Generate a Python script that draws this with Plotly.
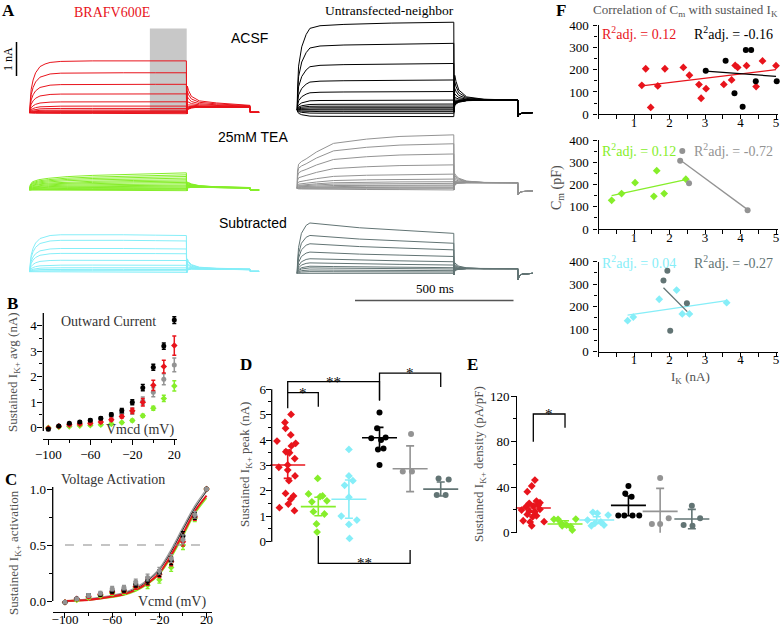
import plotly.graph_objects as go

W, H = 781, 626
def px(x): return x / W
def py(y): return 1 - y / H

RED = '#e8141c'; GREEN = '#86ee2a'; CYAN = '#86eef8'; BLACK = '#000000'
GRAY = '#939393'; SLATE = '#627474'
SERIF = 'Liberation Serif'; SANS = 'Liberation Sans'
TITLE_C = '#505050'

# ---------------- Panel A: current traces (nA vs ms) ----------------
step_ms = 500
window_ms = [383, 500]
window_top_nA = 2.55

fast_on_t = [0, 2, 6, 12, 20, 34, 50, 66, 100, 200, 300, 400, 499]
braf_tail_t = [0, 2, 6, 15, 40, 95, 201, 202, 230]
untr_tail_t = [0, 2, 6, 15, 40, 95, 202, 203, 206, 215, 250]

red_levels = [1.57, 1.21, 0.86, 0.57, 0.33, 0.2, 0.13, 0.08, 0.05, 0.03, 0.015, 0.0, -0.02]
red_on = [0, 0.2, 0.45, 0.63, 0.77, 0.89, 0.94, 0.97, 0.99, 1.0, 1.0, 1.0, 1.0]
red_tail_floor = [-0.03, 0.1, 0.12, 0.15, 0.17, 0.17, 0.16, 0.01, 0.01]
red_tail_frac = [0, 0.45, 0.35, 0.22, 0.12, 0.08, 0.04, 0.005, 0.005]

green_levels = [0.52, 0.46, 0.41, 0.36, 0.31, 0.27, 0.23, 0.19, 0.15, 0.12, 0.09, 0.06, 0.04, 0.02, 0.0]
green_on_t = [0, 3, 10, 30, 60, 120, 200, 330, 499]
green_on = [0, 0.3, 0.48, 0.6, 0.68, 0.78, 0.85, 0.93, 1.0]
green_tail_floor = [-0.02, 0.06, 0.07, 0.08, 0.08, 0.07, 0.06, 0.0, 0.0]
green_tail_frac = [0, 0.35, 0.3, 0.2, 0.1, 0.05, 0.03, 0, 0]

cyan_levels = [1.13, 0.96, 0.71, 0.56, 0.35, 0.2, 0.12, 0.07, 0.03, 0.0]
cyan_on = [0, 0.2, 0.45, 0.63, 0.77, 0.89, 0.94, 0.97, 0.99, 1.0, 0.99, 0.98, 0.97]
cyan_tail_floor = [-0.02, 0.05, 0.06, 0.08, 0.08, 0.07, 0.06, 0.01, 0.01]
cyan_tail_frac = [0, 0.3, 0.22, 0.12, 0.05, 0.03, 0.02, 0, 0]

black_levels = [2.66, 2.02, 1.41, 0.91, 0.56, 0.3, 0.18, 0.12, 0.07, 0.03, 0.0, -0.05, -0.1, -0.2]
black_on_t = [0, 2, 6, 16, 30, 42, 74, 150, 300, 499]
black_on = [0, 0.25, 0.5, 0.72, 0.86, 0.93, 0.96, 0.975, 0.99, 1.0]
black_tail_floor = [-0.05, 0.2, 0.23, 0.26, 0.29, 0.3, 0.3, -0.2, -0.14, -0.1, -0.08]
black_tail_frac = [0, 0.32, 0.24, 0.13, 0.04, 0.01, 0, 0, 0, 0, 0]

gray_levels = [1.62, 1.35, 1.04, 0.71, 0.43, 0.28, 0.2, 0.15, 0.1, 0.07, 0.03, 0.0, -0.04]
gray_on_t = [0, 2, 6, 15, 30, 63, 117, 222, 328, 499]
gray_on = [0, 0.3, 0.45, 0.5, 0.55, 0.68, 0.84, 0.92, 0.97, 1.0]
gray_tail_floor = [-0.05, 0.12, 0.14, 0.16, 0.17, 0.17, 0.17, -0.2, -0.14, -0.1, -0.08]
gray_tail_frac = [0, 0.2, 0.15, 0.09, 0.03, 0.005, 0, 0, 0, 0, 0]

slate_levels = [1.21, 0.91, 0.71, 0.51, 0.35, 0.25, 0.17, 0.13, 0.08, 0.04, 0.0]
slate_on_t = [0, 2, 6, 15, 30, 42, 116, 200, 328, 499]
slate_on = [0, 0.3, 0.65, 1.0, 1.2, 1.26, 1.2, 1.14, 1.08, 1.0]
slate_tail_floor = [-0.05, 0.08, 0.1, 0.12, 0.14, 0.14, 0.14, -0.2, -0.1, -0.03, 0.0]
slate_tail_frac = [0, 0.2, 0.15, 0.08, 0.02, 0.0, 0, 0, 0, 0, 0]

# ---------------- Panel B / C ----------------
volts = [-100, -90, -80, -70, -60, -50, -40, -30, -20, -10, 0, 10, 20]
B_black = [-0.05, 0.07, 0.17, 0.22, 0.29, 0.37, 0.52, 0.67, 1.0, 1.57, 2.37, 3.2, 4.22]
B_black_err = [0.03, 0.03, 0.03, 0.04, 0.05, 0.05, 0.06, 0.08, 0.1, 0.12, 0.12, 0.12, 0.13]
B_red = [-0.02, 0.06, 0.12, 0.15, 0.17, 0.22, 0.31, 0.44, 0.66, 1.0, 1.66, 2.4, 3.22]
B_red_err = [0.03, 0.03, 0.03, 0.03, 0.04, 0.04, 0.05, 0.06, 0.1, 0.15, 0.2, 0.25, 0.38]
B_gray = [-0.07, 0.06, 0.12, 0.2, 0.27, 0.35, 0.47, 0.57, 0.65, 1.05, 1.39, 1.9, 2.46]
B_gray_err = [0.05, 0.04, 0.04, 0.05, 0.06, 0.07, 0.08, 0.1, 0.12, 0.15, 0.18, 0.22, 0.27]
B_green = [0.0, 0.03, 0.05, 0.08, 0.1, 0.12, 0.15, 0.2, 0.28, 0.47, 0.76, 1.15, 1.64]
B_green_err = [0.02, 0.02, 0.02, 0.02, 0.03, 0.03, 0.03, 0.04, 0.05, 0.06, 0.08, 0.12, 0.2]

C_black = [-0.01, 0.02, 0.05, 0.06, 0.09, 0.1, 0.15, 0.18, 0.25, 0.36, 0.58, 0.76, 1.0]
C_red = [-0.01, 0.02, 0.04, 0.06, 0.08, 0.09, 0.13, 0.17, 0.24, 0.35, 0.53, 0.75, 1.0]
C_gray = [-0.01, 0.02, 0.05, 0.07, 0.11, 0.12, 0.17, 0.21, 0.27, 0.38, 0.55, 0.77, 1.0]
C_green = [-0.01, 0.01, 0.03, 0.05, 0.07, 0.08, 0.12, 0.14, 0.19, 0.3, 0.5, 0.74, 1.0]
C_err = [0.01, 0.01, 0.015, 0.015, 0.02, 0.02, 0.025, 0.03, 0.03, 0.035, 0.04, 0.03, 0.0]

fit_v = [-100, -80, -60, -50, -40, -30, -20, -10, 0, 10, 20]
fit_red = [0.0, 0.01, 0.04, 0.06, 0.1, 0.16, 0.25, 0.41, 0.6, 0.8, 0.94]
fit_green = [0.0, 0.01, 0.035, 0.055, 0.09, 0.15, 0.24, 0.39, 0.58, 0.78, 0.92]
fit_black = [0.0, 0.015, 0.045, 0.07, 0.11, 0.18, 0.28, 0.44, 0.64, 0.83, 0.98]
fit_gray = [0.0, 0.02, 0.05, 0.075, 0.12, 0.19, 0.29, 0.46, 0.66, 0.85, 1.0]

# ---------------- Panel D / E (category index + jitter) ----------------
groups = ['BRAF ACSF', 'BRAF TEA', 'BRAF sub', 'Untr ACSF', 'Untr TEA', 'Untr sub']
D_vals = [
    [5.01, 4.69, 4.46, 4.2, 3.96, 3.87, 3.77, 3.54, 3.5, 3.27, 2.93, 3.02, 2.82, 2.59, 2.4, 1.9, 1.8, 1.67, 1.48, 1.34, 1.22],
    [2.49, 1.88, 1.8, 1.77, 1.61, 1.57, 1.18, 1.09, 0.7, 0.38],
    [3.63, 2.59, 2.4, 2.22, 1.75, 1.01, 0.85, 0.68, 0.13],
    [5.08, 4.46, 4.1, 4.07, 4.0, 3.63, 3.67, 3.02],
    [4.24, 2.76, 2.76],
    [2.49, 2.45, 1.84, 1.84],
]
D_jit = [
    [0.11, -0.09, -0.07, 0.1, -0.35, 0.26, 0.12, -0.06, 0.06, 0.23, -0.29, 0, 0, 0.24, 0.04, -0.07, 0.19, 0.1, 0.02, -0.27, 0.22],
    [-0.02, -0.32, 0.14, 0.06, 0.28, -0.21, -0.16, 0.2, -0.06, -0.04],
    [0, 0, 0.13, -0.14, 0, -0.25, 0.26, 0, 0.02],
    [0, -0.08, 0.2, -0.27, 0.05, -0.05, 0.13, 0],
    [0.03, -0.24, 0.06],
    [-0.07, 0.26, -0.13, 0.16],
]
D_mean = [3.02, 1.38, 1.67, 4.09, 2.87, 2.07]
D_hi = [3.61, 1.75, 2.43, 4.5, 3.77, 2.35]
D_lo = [2.49, 1.02, 0.92, 3.65, 1.97, 1.8]

E_vals = [
    [46.2, 41, 36, 27.8, 26.3, 25.8, 24.3, 23.4, 22.8, 20.5, 19.9, 19, 18.4, 16, 14.9, 14, 10.5, 9.7, 9.4, 6.1],
    [11.7, 11.7, 12, 8.2, 6.7, 6.1, 5.3, 2.3],
    [17.9, 17, 15.5, 11.1, 9.4, 8.2, 6.7, 6.1],
    [41, 34.5, 31.6, 15.2, 15.2, 15.2, 15.2],
    [48, 12.6, 7.6, 7.6],
    [23.7, 12.6, 6.7, 6.1],
]
E_jit = [
    [0.05, -0.05, -0.19, 0.1, 0.21, -0.13, 0.16, 0, -0.23, 0.21, -0.37, -0.13, 0.05, -0.19, 0.1, -0.02, -0.32, 0.34, -0.1, -0.05],
    [-0.35, -0.22, 0.34, -0.12, 0.05, -0.09, 0.18, 0.23],
    [-0.12, 0.02, 0.36, -0.29, 0.13, -0.06, 0.23, -0.17],
    [0, -0.1, 0.1, -0.32, -0.13, 0.13, 0.34],
    [0, 0.27, -0.26, 0],
    [0, 0.26, -0.26, 0.02],
]
E_mean = [21.7, 7.6, 11.1, 24, 18.7, 12]
E_hi = [25.2, 10.5, 14, 32.2, 38.9, 20.5]
E_lo = [17.9, 5.3, 8.2, 14.9, -1.2, 3.5]

grp_colors = [RED, GREEN, CYAN, BLACK, GRAY, SLATE]
grp_symbols = ['diamond', 'diamond', 'diamond', 'circle', 'circle', 'circle']

# ---------------- Panel F ----------------
F1_red_x = [1.22, 1.33, 1.47, 1.67, 1.87, 2.39, 2.56, 2.83, 2.89, 3.03, 3.53, 3.75, 3.85, 3.92, 4.17, 4.44, 4.62, 5.0]
F1_red_y = [130, 204, 31, 127, 204, 210, 175, 133, 72, 115, 134, 154, 219, 210, 218, 124, 239, 218]
F1_red_fit_x = [1.22, 5.0]; F1_red_fit_y = [127, 200]
F1_blk_x = [3.02, 3.58, 3.83, 4.06, 4.15, 4.3, 4.43, 5.02]
F1_blk_y = [195, 240, 94, 34, 288, 288, 148, 148]
F1_blk_fit_x = [3.02, 5.0]; F1_blk_fit_y = [193, 170]
F2_grn_x = [0.37, 0.65, 1.03, 1.56, 1.64, 1.85, 2.46]
F2_grn_y = [129, 159, 208, 147, 262, 159, 224]
F2_grn_fit_x = [0.37, 2.46]; F2_grn_fit_y = [150, 222]
F2_gry_x = [2.36, 2.3, 2.55, 4.2]
F2_gry_y = [351, 307, 206, 84]
F2_gry_fit_x = [2.3, 4.2]; F2_gry_fit_y = [310, 87]
F3_cyn_x = [0.82, 0.98, 1.71, 2.2, 2.36, 2.56, 3.61]
F3_cyn_y = [138, 154, 233, 274, 168, 168, 218]
F3_cyn_fit_x = [0.82, 3.61]; F3_cyn_fit_y = [163, 227]
F3_slt_x = [1.94, 1.83, 2.49, 2.02]
F3_slt_y = [360, 316, 215, 93]
F3_slt_fit_x = [1.83, 2.5]; F3_slt_fit_y = [284, 178]
R2_labels = [('0.12', '-0.16'), ('0.12', '-0.72'), ('0.04', '-0.27')]

# =====================================================================
fig = go.Figure()
layout = dict(width=W, height=H, margin=dict(l=0, r=0, t=0, b=0, pad=0), autosize=False,
              paper_bgcolor='white', plot_bgcolor='rgba(0,0,0,0)', showlegend=False,
              font=dict(family=SERIF, size=13, color='black'))
shapes = []
anns = []

def axes(n, xbox, ybox, xr, yr, xkw=None, ykw=None):
    s = '' if n == 1 else str(n)
    base = dict(showgrid=False, zeroline=False, fixedrange=True, automargin=False)
    xa = dict(base, domain=[px(xbox[0]), px(xbox[1])], range=xr, anchor='y' + s)
    ya = dict(base, domain=[py(ybox[1]), py(ybox[0])], range=yr, anchor='x' + s)
    xa.update(xkw or {}); ya.update(ykw or {})
    layout['xaxis' + s] = xa; layout['yaxis' + s] = ya
    return 'x' + s, 'y' + s

HID = dict(visible=False)
def sty(showline=True, **kw):
    d = dict(visible=True, showline=showline, linecolor='black', linewidth=1.3,
             ticks='outside', ticklen=5, tickwidth=1.3, tickcolor='black',
             tickfont=dict(family=SERIF, size=13, color='black'))
    d.update(kw)
    return d

def ann(text, x, y, size=13, color='black', family=SERIF, xanchor='center',
        yanchor='middle', angle=0, xref='paper', yref='paper'):
    if xref == 'paper':
        x = px(x)
    if yref == 'paper':
        y = py(y)
    anns.append(dict(text=text, x=x, y=y, xref=xref, yref=yref, showarrow=False,
                     xanchor=xanchor, yanchor=yanchor, textangle=angle,
                     font=dict(family=family, size=size, color=color)))

# ---- Panel A axes (hidden), 1 nA = 33 px, 500 ms = 157.4 px
tscale = 157.4 / 500.0
def a_axes(n, x0, base_y, y0, y1):
    return axes(n, [x0, x0 + 760 * tscale], [y0, y1], [0, 760],
                [-(y1 - base_y) / 33.0, (base_y - y0) / 33.0], HID, HID)

ax_red = a_axes(1, 29.3, 112.7, 20, 120)
ax_blk = a_axes(2, 296.7, 110.0, 15, 122)
ax_grn = a_axes(3, 29.3, 190.0, 160, 197)
ax_gry = a_axes(4, 296.7, 188.3, 125, 200)
ax_cyn = a_axes(5, 29.3, 271.7, 225, 280)
ax_slt = a_axes(6, 296.7, 273.3, 215, 285)

shapes.append(dict(type='rect', xref=ax_red[0], yref=ax_red[1], x0=window_ms[0], x1=window_ms[1],
                   y0=0, y1=window_top_nA, fillcolor='#c8c8c8', line=dict(width=0), layer='below'))

def traces(axp, levels, on_t, on_s, tail_t, floor, frac, color):
    for lv in levels:
        t = list(on_t) + [step_ms + tt for tt in tail_t]
        y = [lv * s for s in on_s] + [f + lv * k for f, k in zip(floor, frac)]
        fig.add_trace(go.Scatter(x=t, y=y, mode='lines', xaxis=axp[0], yaxis=axp[1],
                                 line=dict(color=color, width=1), hoverinfo='skip'))

traces(ax_red, red_levels, fast_on_t, red_on, braf_tail_t, red_tail_floor, red_tail_frac, RED)
traces(ax_grn, green_levels, green_on_t, green_on, braf_tail_t, green_tail_floor, green_tail_frac, GREEN)
traces(ax_cyn, cyan_levels, fast_on_t, cyan_on, braf_tail_t, cyan_tail_floor, cyan_tail_frac, CYAN)
traces(ax_blk, black_levels, black_on_t, black_on, untr_tail_t, black_tail_floor, black_tail_frac, BLACK)
traces(ax_gry, gray_levels, gray_on_t, gray_on, untr_tail_t, gray_tail_floor, gray_tail_frac, GRAY)
traces(ax_slt, slate_levels, slate_on_t, slate_on, untr_tail_t, slate_tail_floor, slate_tail_frac, SLATE)

# scale bars
shapes.append(dict(type='line', xref='paper', yref='paper', x0=px(16.5), x1=px(16.5), y0=py(42), y1=py(76),
                   line=dict(color='black', width=1.5)))
shapes.append(dict(type='line', xref='paper', yref='paper', x0=px(355), x1=px(513.5), y0=py(300.5), y1=py(300.5),
                   line=dict(color='#555555', width=1.6)))
ann('1 nA', 8, 59, 12, angle=-90)
ann('500 ms', 435, 288, 13)
ann('BRAFV600E', 112, 12, 14, RED)
ann('Untransfected-neighbor', 389.5, 11, 13.5)
ann('ACSF', 249, 38, 14, family=SANS)
ann('25mM TEA', 253, 137, 14, family=SANS)
ann('Subtracted', 253, 223, 14, family=SANS)

# ---- Panel B
bx, by = axes(7, [43.3, 177], [313, 439], [-104.76, 22.57], [-0.443, 4.498],
              sty(tick0=-100, dtick=40, ticklabelstandoff=-2,
                  minor=dict(ticks='outside', dtick=20, ticklen=3, tickwidth=1)),
              sty(showline=False, tick0=0, dtick=1, ticklabelstandoff=-2,
                  minor=dict(ticks='outside', dtick=0.5, ticklen=3, tickwidth=1)))
shapes.append(dict(type='line', xref='x7 domain', yref=by, x0=0, x1=0, y0=-0.13, y1=4.498,
                   line=dict(color='black', width=1.3)))
for yv, ye, c, sym in [(B_green, B_green_err, GREEN, 'diamond'), (B_gray, B_gray_err, GRAY, 'circle'),
                       (B_red, B_red_err, RED, 'diamond'), (B_black, B_black_err, BLACK, 'circle')]:
    fig.add_trace(go.Scatter(x=volts, y=yv, mode='markers', xaxis=bx, yaxis=by, cliponaxis=False,
                             marker=dict(symbol=sym, size=5, color=c),
                             error_y=dict(type='data', array=ye, color=c, thickness=1.5, width=2)))
ann('Outward Current', 108, 321, 14, '#333333')
ann('Vmcd (mV)', 140, 430, 14, '#333333')
ann('Sustained I<sub>K+</sub> avg (nA)', 14, 372, 13, TITLE_C, angle=-90)

# ---- Panel C
cx, cy = axes(8, [52.7, 212], [487, 612], [-110.4, 24.6], [-0.098, 1.018],
              sty(tick0=-100, dtick=40, ticklabelstandoff=-10,
                  minor=dict(ticks='outside', dtick=20, ticklen=3, tickwidth=1)),
              sty(showline=False, tickvals=[0, 0.5, 1.0], tickformat='.1f', ticklabelstandoff=-2,
                  minor=dict(ticks='outside', dtick=0.25, ticklen=3, tickwidth=1)))
shapes.append(dict(type='line', xref='x8 domain', yref=cy, x0=0, x1=0, y0=0, y1=1.018,
                   line=dict(color='black', width=1.3)))
shapes.append(dict(type='line', xref=cx, yref=cy, x0=-100, x1=20, y0=0.5, y1=0.5,
                   line=dict(color='#8a8a8a', width=1.2, dash='dash')))
for fv, c, w in [(fit_green, GREEN, 1.6), (fit_black, '#333333', 1.2), (fit_gray, '#9a9a9a', 1.2), (fit_red, RED, 2)]:
    fig.add_trace(go.Scatter(x=fit_v, y=fv, mode='lines', xaxis=cx, yaxis=cy,
                             line=dict(color=c, width=w, shape='spline', smoothing=0.8)))
for yv, c, sym in [(C_green, GREEN, 'diamond'), (C_red, RED, 'diamond'), (C_black, BLACK, 'circle'), (C_gray, GRAY, 'circle')]:
    fig.add_trace(go.Scatter(x=volts, y=yv, mode='markers', xaxis=cx, yaxis=cy, cliponaxis=False,
                             marker=dict(symbol=sym, size=5, color=c),
                             error_y=dict(type='data', array=C_err, color=c, thickness=1.3, width=2)))
ann('Voltage Activation', 113, 479, 14, '#333333')
ann('Vcmd (mV)', 172, 602, 14, '#333333')
ann('Sustained I<sub>K+</sub> activation', 14, 553, 13, TITLE_C, angle=-90)

# ---- Panel D
dx, dy = axes(9, [271.7, 460], [360, 570], [-0.523, 5.63], [-1.114, 7.15],
              HID, sty(showline=False, tickvals=[0, 1, 2, 3, 4, 5, 6], ticklabelstandoff=-3,
                       minor=dict(ticks='outside', tickvals=[0.5, 1.5, 2.5, 3.5, 4.5, 5.5], ticklen=3, tickwidth=1)))
shapes.append(dict(type='line', xref='x9 domain', yref=dy, x0=0, x1=0, y0=0, y1=6,
                   line=dict(color='black', width=1.3)))

def dot_panel(axp, vals, jit, mean, hi, lo):
    for i in range(6):
        fig.add_trace(go.Scatter(x=[i + j for j in jit[i]], y=vals[i], mode='markers',
                                 xaxis=axp[0], yaxis=axp[1], cliponaxis=False,
                                 marker=dict(symbol=grp_symbols[i], size=6, color=grp_colors[i])))
        fig.add_trace(go.Scatter(x=[i], y=[mean[i]], mode='markers', xaxis=axp[0], yaxis=axp[1],
                                 cliponaxis=False,
                                 marker=dict(symbol='line-ew', size=25, color=grp_colors[i],
                                             line=dict(width=1.6, color=grp_colors[i])),
                                 error_y=dict(type='data', symmetric=False, array=[hi[i] - mean[i]],
                                              arrayminus=[mean[i] - lo[i]], color=grp_colors[i],
                                              thickness=1.6, width=4)))

dot_panel((dx, dy), D_vals, D_jit, D_mean, D_hi, D_lo)
for path in ['M 0,5.25 L 0,6.3 L 3,6.3 L 3,5.55', 'M 0,5.87 L 1,5.87 L 1,5.31',
             'M 3,5.58 L 3,6.63 L 5,6.63 L 5,6.09', 'M 1,0.22 L 1,-0.85 L 4,-0.85 L 4,-0.33']:
    shapes.append(dict(type='path', path=path, xref=dx, yref=dy, line=dict(color='black', width=1.3)))
for txt, xv, yv in [('*', 0.5, 5.87), ('**', 1.5, 6.3), ('*', 4.0, 6.63), ('**', 2.5, -0.85)]:
    ann(txt, xv, yv, 15, xref=dx, yref=dy)
ann('Sustained I<sub>K+</sub> peak (nA)', 245, 465, 13, TITLE_C, angle=-90)

# ---- Panel E
ex, ey = axes(10, [517.3, 715], [396, 532.7], [-0.505, 5.73], [0, 120],
              HID, sty(tickvals=[0, 40, 80, 120], ticklabelstandoff=-1,
                       minor=dict(ticks='outside', tickvals=[20, 60, 100], ticklen=3, tickwidth=1)))
dot_panel((ex, ey), E_vals, E_jit, E_mean, E_hi, E_lo)
shapes.append(dict(type='path', path='M 0,79.9 L 0,104.2 L 1,104.2 L 1,92.2', xref=ex, yref=ey,
                   line=dict(color='black', width=1.3)))
ann('*', 0.5, 104.2, 15, xref=ex, yref=ey)
ann('Sustained I<sub>K+</sub> density (pA/pF)', 479, 464, 13, TITLE_C, angle=-90)

# ---- Panel F
def f_axes(n, ybox):
    return axes(n, [598.5, 778], ybox, [0, 5.056], [0, 400],
                sty(tickvals=[0, 1, 2, 3, 4, 5], ticktext=['', '1', '2', '3', '4', '5'], ticklen=4,
                    ticklabelstandoff=-8,
                    minor=dict(ticks='outside', tickvals=[0.5, 1.5, 2.5, 3.5, 4.5], ticklen=4, tickwidth=1)),
                sty(tickvals=[0, 100, 200, 300, 400], ticklen=4, ticklabelstandoff=2,
                    minor=dict(ticks='outside', tickvals=[50, 150, 250, 350], ticklen=3, tickwidth=1)))

f1 = f_axes(11, [25, 114.3])
f2 = f_axes(12, [140, 229])
f3 = f_axes(13, [261.7, 351.7])

def f_series(axp, xs, ys, fx, fy, c, sym):
    fig.add_trace(go.Scatter(x=fx, y=fy, mode='lines', xaxis=axp[0], yaxis=axp[1],
                             line=dict(color=c, width=1.3)))
    fig.add_trace(go.Scatter(x=xs, y=ys, mode='markers', xaxis=axp[0], yaxis=axp[1], cliponaxis=False,
                             marker=dict(symbol=sym, size=6, color=c)))

f_series(f1, F1_red_x, F1_red_y, F1_red_fit_x, F1_red_fit_y, RED, 'diamond')
f_series(f1, F1_blk_x, F1_blk_y, F1_blk_fit_x, F1_blk_fit_y, BLACK, 'circle')
f_series(f2, F2_grn_x, F2_grn_y, F2_grn_fit_x, F2_grn_fit_y, GREEN, 'diamond')
f_series(f2, F2_gry_x, F2_gry_y, F2_gry_fit_x, F2_gry_fit_y, GRAY, 'circle')
f_series(f3, F3_cyn_x, F3_cyn_y, F3_cyn_fit_x, F3_cyn_fit_y, CYAN, 'diamond')
f_series(f3, F3_slt_x, F3_slt_y, F3_slt_fit_x, F3_slt_fit_y, SLATE, 'circle')

for (a, b), yy, (ca, cb) in zip(R2_labels, [33, 150, 262], [(RED, BLACK), (GREEN, GRAY), (CYAN, SLATE)]):
    ann('R<sup>2</sup>adj. = ' + a, 600, yy, 14, ca, xanchor='left')
    ann('R<sup>2</sup>adj. = ' + b, 691.5, yy, 14, cb, xanchor='left')

ann('Correlation of C<sub>m</sub> with sustained I<sub>K</sub>', 591, 11, 13, '#555555', xanchor='left')
ann('C<sub>m</sub> (pF)', 557, 188, 14, TITLE_C, angle=-90)
ann('I<sub>K</sub> (nA)', 690, 377, 13, TITLE_C)

# panel letters
for L, x, y in [('A', 8, 11), ('B', 12, 303), ('C', 11, 479), ('D', 246, 364), ('E', 472, 364), ('F', 561, 11)]:
    ann('<b>' + L + '</b>', x, y, 17)

layout['shapes'] = shapes
layout['annotations'] = anns
fig.update_layout(**layout)
fig.write_html('out.html', config={'displayModeBar': False, 'responsive': False},
               post_script="document.body.style.margin='0px';document.body.style.padding='0px';"
                           "document.body.style.overflow='hidden';")
